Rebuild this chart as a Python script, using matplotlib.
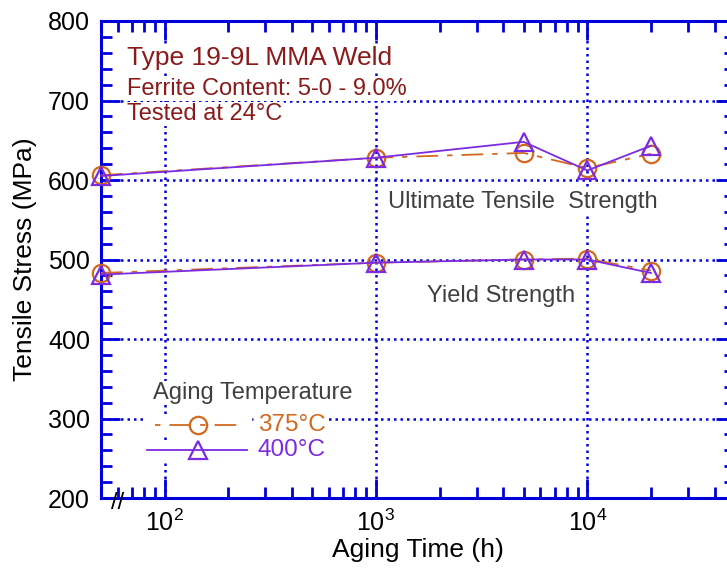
"""Tensile properties of an aged 19-9L MMA weld vs. aging time."""

import matplotlib

matplotlib.use("Agg")
import matplotlib.pyplot as plt  # noqa: E402
from matplotlib.lines import Line2D  # noqa: E402
from matplotlib.ticker import LogLocator, MultipleLocator, NullFormatter  # noqa: E402

plt.rcParams["font.family"] = ["Liberation Sans", "DejaVu Sans"]

# aging time (h); the unaged condition is drawn at the left edge of the axis
aging_time = [50, 1000, 5000, 10000, 20000]

uts_375 = [606, 628, 634, 615, 633]
uts_400 = [605, 628, 648, 612, 643]
ys_375 = [483, 496, 500, 501, 486]
ys_400 = [481, 496, 500, 500, 483]

C_375 = "#D2691E"
C_400 = "#7B2BE0"
AXIS_BLUE = "#0000DD"
DARK_RED = "#8B1A1A"
GREY = "#404040"
DASH_375 = (0, (12, 5, 3, 5))
WHITE_BOX = dict(facecolor="white", edgecolor="none", pad=1)

W, H = 727, 573
fig = plt.figure(figsize=(W / 100, H / 100), dpi=100)
ax = fig.add_axes([101 / W, 1 - 498 / H, (735 - 101) / W, (498 - 21) / H])


def px(x, y):
    """Pixel position (from top-left) to figure fraction."""
    return x / W, 1 - y / H


for uts, ys, color, ls, marker in [
    (uts_375, ys_375, C_375, DASH_375, "o"),
    (uts_400, ys_400, C_400, "-", "^"),
]:
    for vals in (uts, ys):
        ax.plot(aging_time, vals, color=color, linestyle=ls, linewidth=1.3,
                marker=marker, markersize=12.5, markerfacecolor="none",
                markeredgewidth=1.6, clip_on=False, zorder=4)

ax.set_xscale("log")
ax.set_xlim(50, 5e4)
ax.set_ylim(200, 800)
ax.xaxis.set_major_locator(LogLocator(base=10, numticks=10))
ax.xaxis.set_minor_locator(LogLocator(base=10, subs=range(2, 10), numticks=20))
ax.xaxis.set_minor_formatter(NullFormatter())
ax.yaxis.set_major_locator(MultipleLocator(100))
ax.yaxis.set_minor_locator(MultipleLocator(20))

for sp in ax.spines.values():
    sp.set_color(AXIS_BLUE)
    sp.set_linewidth(2.2)
ax.tick_params(which="both", direction="in", top=True, right=True,
               color=AXIS_BLUE, labelsize=18, labelcolor="black", pad=8)
ax.tick_params(which="major", length=14, width=2)
ax.tick_params(which="minor", length=8, width=2)
ax.grid(True, which="major", color=AXIS_BLUE, linestyle=(0, (1, 1.6)),
        linewidth=1.8)

ax.set_xlabel("Aging Time (h)", fontsize=19, labelpad=2)
ax.set_ylabel("Tensile Stress (MPa)", fontsize=19, labelpad=8)

# axis break on the time axis
fig.text(*px(118, 503), "//", fontsize=17, ha="center", va="center",
         color="black")


def note(x, y, s, size, color, **kw):
    fig.text(*px(x, y), s, fontsize=size, color=color, va="center",
             bbox=WHITE_BOX, zorder=5, **kw)


note(127, 58, "Type 19-9L MMA Weld", 19, DARK_RED)
note(127, 89, "Ferrite Content: 5-0 - 9.0%", 17, DARK_RED)
note(127, 114, "Tested at 24°C", 17, DARK_RED)

note(388, 202, "Ultimate Tensile  Strength", 17, GREY)
note(575, 296, "Yield Strength", 17, GREY, ha="right")

# hand-drawn legend
note(153, 393, "Aging Temperature", 17, GREY)
for y, color, ls, marker, label in [
    (425, C_375, (17, (12, 5, 3, 5)), "o", "375°C"),
    (450, C_400, "-", "^", "400°C"),
]:
    x0, x1 = (155, 242) if marker == "o" else (147, 247)
    (fx0, fy), (fx1, _) = px(x0, y), px(x1, y)
    fig.add_artist(Line2D([fx0, fx1], [fy, fy], color="white", linewidth=14,
                          transform=fig.transFigure, zorder=5))
    fig.add_artist(Line2D([fx0, fx1], [fy, fy], color=color, linestyle=ls,
                          linewidth=1.3, transform=fig.transFigure, zorder=6))
    fig.add_artist(Line2D([px(198, y)[0]], [fy], marker=marker,
                          markersize=12.5, markerfacecolor="none",
                          markeredgecolor=color, markeredgewidth=1.6,
                          linestyle="none", transform=fig.transFigure,
                          zorder=6))
    note(258, y, label, 17.5, color)

fig.savefig("out.png", dpi=100)
